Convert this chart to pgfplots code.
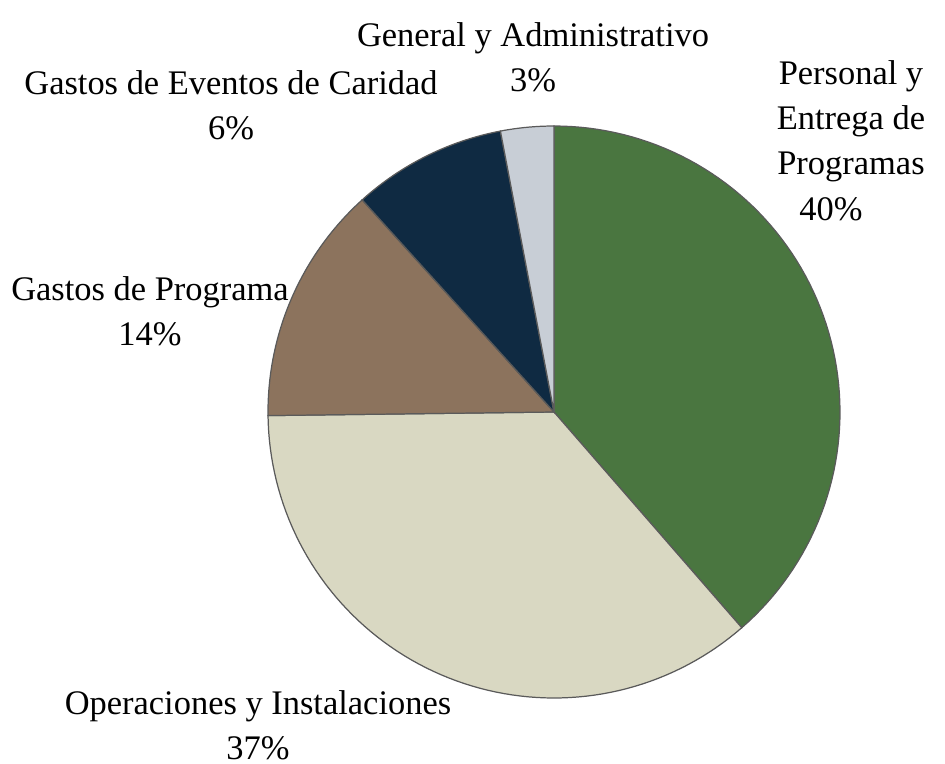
\documentclass[border=0pt]{standalone}
\usepackage{pgfplots}
\pgfplotsset{compat=1.18}
\usepackage{fontspec}
\setmainfont{Liberation Serif}
\definecolor{cPers}{HTML}{4A7640}
\definecolor{cOper}{HTML}{D9D8C2}
\definecolor{cProg}{HTML}{8C735D}
\definecolor{cCar}{HTML}{0F2A42}
\definecolor{cGen}{HTML}{C8CED6}
\definecolor{edge}{HTML}{5A5A5A}
% slice values (percent of the drawn pie)
% Personal 38.6, Operaciones 36.2, Programa 13.5, Caridad 8.7, General 3.0
\newcommand{\pieslice}[3]{%
  \addplot[fill=#3, draw=edge, line width=0.35pt, domain=#1:#2, samples=80, variable=\t]
    ({554+286*cos(90-3.6*\t)}, {351+286*sin(90-3.6*\t)}) -- (axis cs:554,351) -- cycle;
}
\tikzset{lab/.style={font=\fontsize{9.8}{12.8}\selectfont, align=center, text=black, inner sep=0pt}}
\begin{document}
\begin{tikzpicture}
\begin{axis}[
  width=9.45cm, height=7.63cm, scale only axis,
  xmin=0, xmax=945, ymin=0, ymax=763,
  hide axis, clip=false,
]
\path (rel axis cs:0,0) rectangle (rel axis cs:1,1);
\pieslice{0}{38.6}{cPers}
\pieslice{38.6}{74.8}{cOper}
\pieslice{74.8}{88.3}{cProg}
\pieslice{88.3}{97.0}{cCar}
\pieslice{97.0}{100}{cGen}
\node[lab] at (axis cs:533,706) {General y Administrativo\\3\%};
\node[lab] at (axis cs:231,658) {Gastos de Eventos de Caridad\\6\%};
\node[lab] at (axis cs:851,642) {Personal y\\Entrega de\\Programas};
\node[lab] at (axis cs:831,554) {40\%};
\node[lab] at (axis cs:150,452) {Gastos de Programa\\14\%};
\node[lab] at (axis cs:258,38) {Operaciones y Instalaciones\\37\%};
\end{axis}
\end{tikzpicture}
\end{document}
